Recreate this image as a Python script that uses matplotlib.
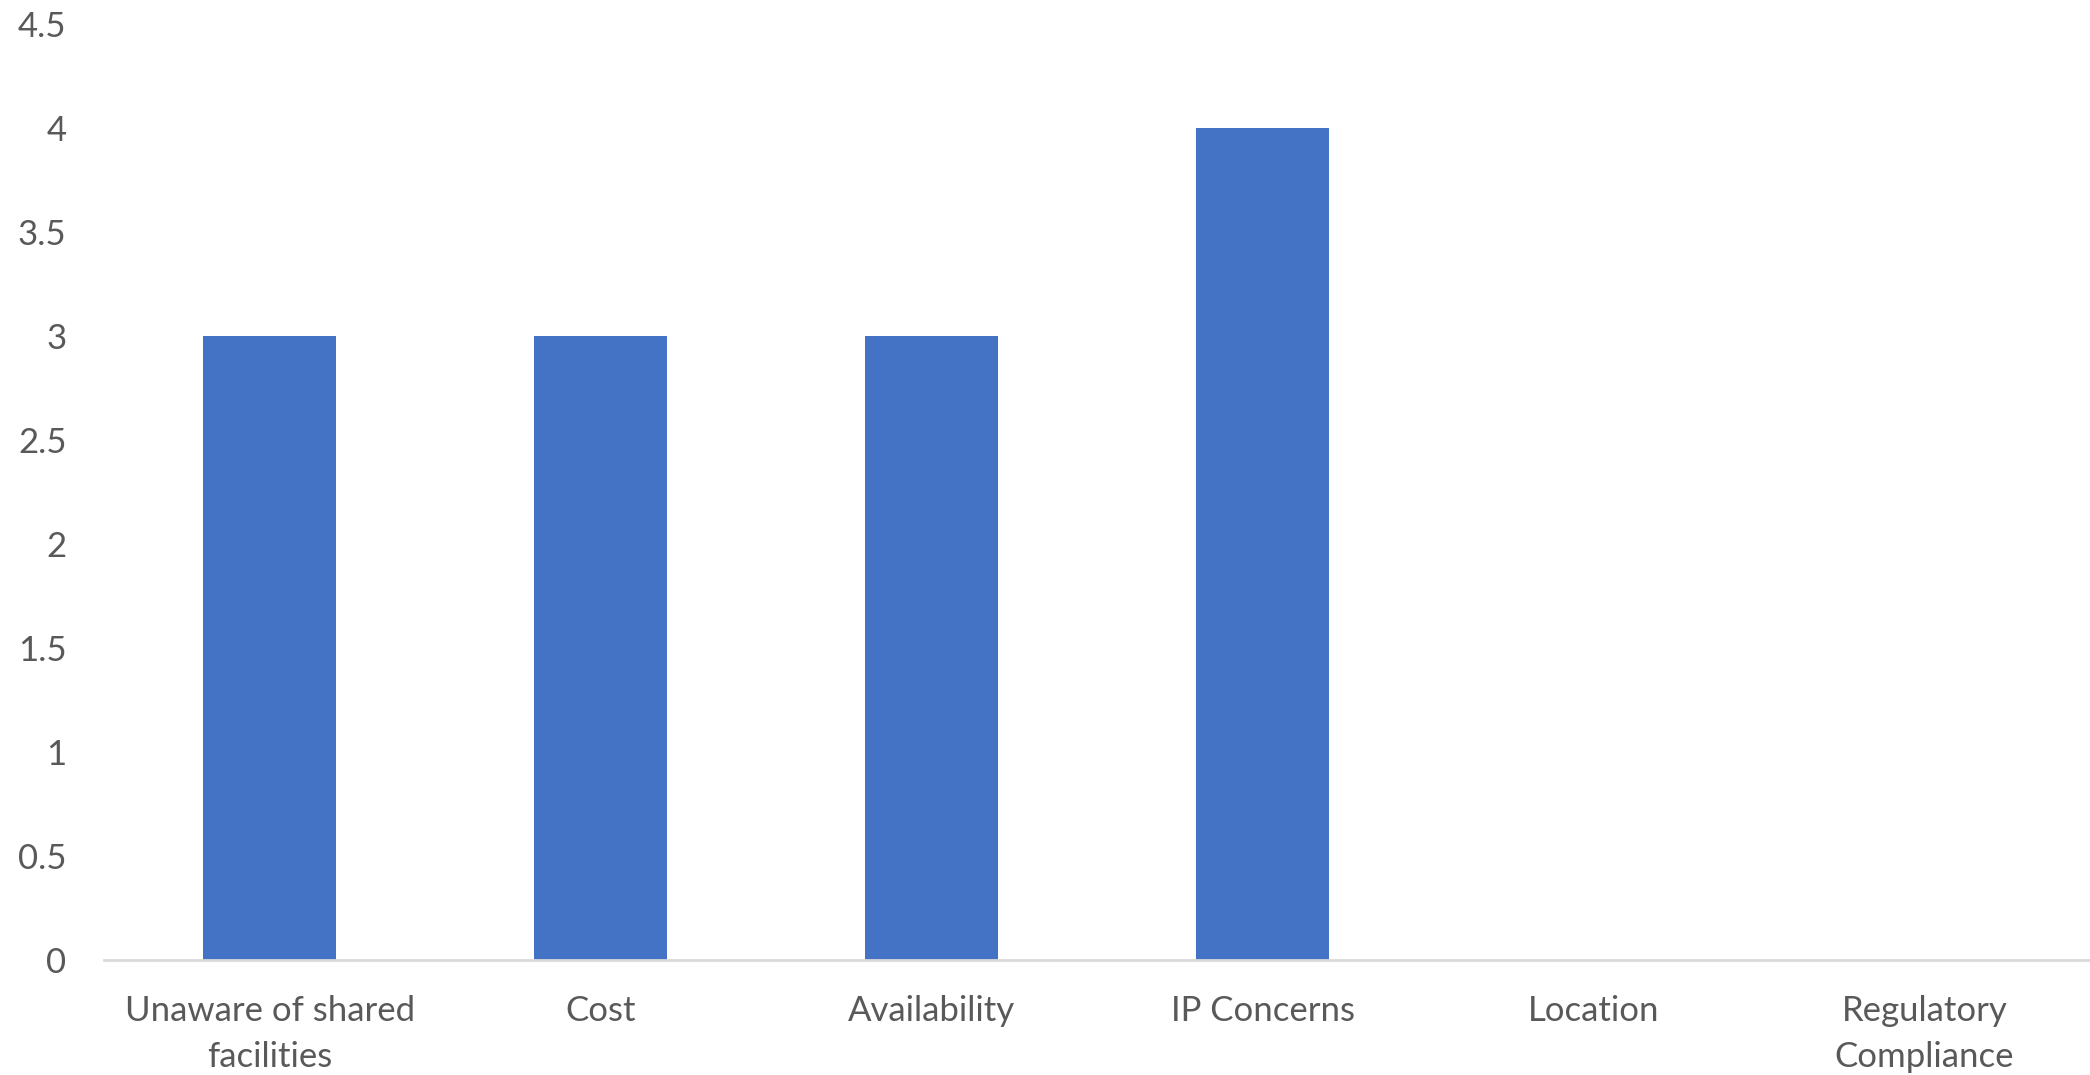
import numpy as np
import matplotlib.pyplot as plt

categories = ['Unaware of shared\nfacilities', 'Cost', 'Availability',
              'IP Concerns', 'Location', 'Regulatory\nCompliance']
values = [3, 3, 3, 4, 0, 0]
yticks = [0, 0.5, 1, 1.5, 2, 2.5, 3, 3.5, 4, 4.5]

plt.rcParams['font.family'] = ['Lato', 'DejaVu Sans']

fig = plt.figure(figsize=(20.9, 10.75), dpi=100)
ax = fig.add_axes([0.0498, 0.107, 0.9502, 0.871])

x = np.arange(len(categories))
ax.bar(x, values, width=0.4, color='#4472C4', zorder=2)

ax.set_xlim(-0.5, len(categories) - 0.5)
ax.set_ylim(0, 4.5)
ax.set_xticks(x)
ax.set_xticklabels(categories, linespacing=1.55)
ax.set_yticks(yticks)
ax.set_yticklabels([('%g' % v) for v in yticks])

for side in ['top', 'right', 'left']:
    ax.spines[side].set_visible(False)
ax.spines['bottom'].set_color('#D9D9D9')
ax.spines['bottom'].set_linewidth(2)
ax.spines['bottom'].set_zorder(3)

ax.tick_params(axis='both', length=0, labelsize=25, colors='#595959')
ax.tick_params(axis='x', pad=25)
ax.tick_params(axis='y', pad=27)

fig.savefig('out.png', dpi=100)
